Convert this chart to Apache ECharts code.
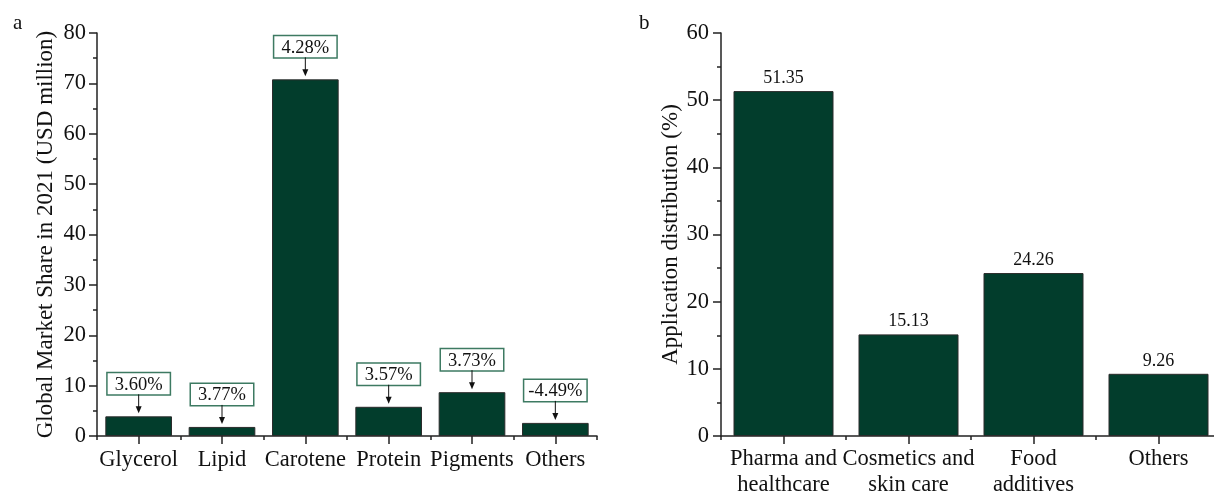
<!DOCTYPE html>
<html>
<head>
<meta charset="utf-8">
<script src="https://cdn.jsdelivr.net/npm/echarts@6/dist/echarts.min.js"></script>
<style>html,body{margin:0;padding:0;background:#fff;}#c{width:1214px;height:496px;}</style>
</head>
<body>
<div id="c"></div>
<script>
// Panel a data
const productCategories = ['Glycerol', 'Lipid', 'Carotene', 'Protein', 'Pigments', 'Others'];
const marketShare2021 = [3.9, 1.8, 70.8, 5.8, 8.7, 2.6];
const growthLabels = ['3.60%', '3.77%', '4.28%', '3.57%', '3.73%', '-4.49%'];
// Panel b data
const applicationCategories = ['Pharma and\nhealthcare', 'Cosmetics and\nskin care', 'Food\nadditives', 'Others'];
const applicationShare = [51.35, 15.13, 24.26, 9.26];

const FONT = '"Liberation Serif", "Times New Roman", serif';
const TXT = '#111';
const BAR = '#023d2c';
const AX = '#222';

const chart = echarts.init(document.getElementById('c'), null, {renderer: 'canvas'});

function catAxes(gridIndex, data, labelMargin, lineHeight) {
  return [
    {
      type: 'category', gridIndex, data, position: 'bottom', offset: 0,
      axisLine: {show: true, lineStyle: {color: AX, width: 1.5}},
      axisTick: {show: true, alignWithLabel: true, length: 8, lineStyle: {color: AX, width: 1.5}},
      axisLabel: {interval: 0, margin: labelMargin, color: TXT, fontFamily: FONT, fontSize: 22.5, lineHeight: lineHeight},
      splitLine: {show: false}
    },
    {
      type: 'category', gridIndex, data, position: 'bottom', offset: 0,
      axisLine: {show: false},
      axisTick: {show: true, alignWithLabel: false, length: 4, lineStyle: {color: AX, width: 1.5}},
      axisLabel: {show: false},
      splitLine: {show: false}
    }
  ];
}

function valAxis(gridIndex, max, name, nameGap, labelMargin) {
  return {
    type: 'value', gridIndex, min: 0, max, interval: 10,
    name, nameLocation: 'middle', nameGap,
    nameTextStyle: {color: TXT, fontFamily: FONT, fontSize: 23},
    axisLine: {show: true, lineStyle: {color: AX, width: 1.5}},
    axisTick: {show: true, inside: false, length: 8, lineStyle: {color: AX, width: 1.5}},
    minorTick: {show: true, splitNumber: 2, length: 4, lineStyle: {color: AX, width: 1.5}},
    axisLabel: {color: TXT, fontFamily: FONT, fontSize: 22.5, margin: labelMargin},
    splitLine: {show: false}
  };
}

const option = {
  backgroundColor: '#fff',
  animation: false,
  title: [
    {text: 'a', left: 8, top: 8, textStyle: {fontFamily: FONT, fontSize: 21, fontWeight: 'normal', color: TXT}},
    {text: 'b', left: 634, top: 8, textStyle: {fontFamily: FONT, fontSize: 21, fontWeight: 'normal', color: TXT}}
  ],
  grid: [
    {left: 97, top: 33, width: 500, height: 403, outerBoundsMode: 'none', containLabel: false},
    {left: 721, top: 33, width: 500, height: 403, outerBoundsMode: 'none', containLabel: false}
  ],
  xAxis: [].concat(catAxes(0, productCategories, 12, 24), catAxes(1, applicationCategories, 10, 26)),
  yAxis: [
    valAxis(0, 80, 'Global Market Share in 2021 (USD million)', 40, 11),
    valAxis(1, 60, 'Application distribution (%)', 38, 12)
  ],
  series: [
    {
      type: 'bar', xAxisIndex: 0, yAxisIndex: 0, barWidth: '80%',
      data: marketShare2021,
      itemStyle: {color: BAR, borderColor: '#2b2b2b', borderWidth: 1},
      label: {
        show: true, position: 'top', distance: 22,
        formatter: (p) => growthLabels[p.dataIndex],
        color: TXT, fontFamily: FONT, fontSize: 18.5,
        backgroundColor: '#fff', borderColor: '#3d7a62', borderWidth: 1.5,
        width: 50, align: 'center', padding: [2, 6, 0, 6], lineHeight: 19
      },
      z: 2
    },
    {
      type: 'custom', xAxisIndex: 0, yAxisIndex: 0,
      data: marketShare2021.map((v, i) => [i, v]),
      renderItem: function (params, api) {
        const p = api.coord([api.value(0), api.value(1)]);
        const x = p[0], y = p[1];
        return {
          type: 'group',
          children: [
            {type: 'line', shape: {x1: x, y1: y - 22, x2: x, y2: y - 9}, style: {stroke: '#111', lineWidth: 1}},
            {type: 'polygon', shape: {points: [[x - 3, y - 10], [x + 3, y - 10], [x, y - 3]]}, style: {fill: '#111'}}
          ]
        };
      },
      z: 3, silent: true
    },
    {
      type: 'bar', xAxisIndex: 2, yAxisIndex: 1, barWidth: '80%',
      data: applicationShare,
      itemStyle: {color: BAR, borderColor: '#2b2b2b', borderWidth: 1},
      label: {
        show: true, position: 'top', distance: 4,
        formatter: (p) => p.value.toFixed(2),
        color: TXT, fontFamily: FONT, fontSize: 18
      }
    }
  ]
};
chart.setOption(option);
</script>
</body>
</html>
